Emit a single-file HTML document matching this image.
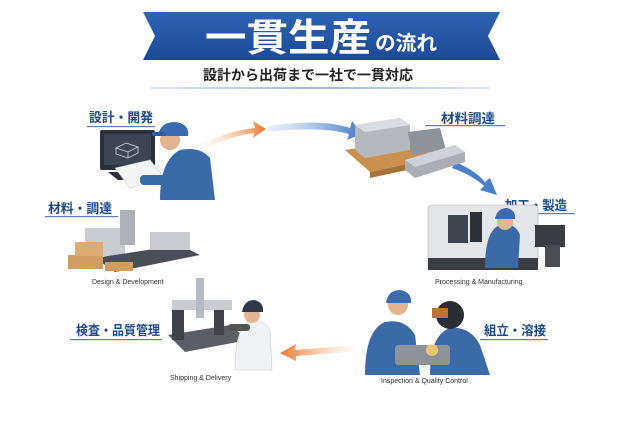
<!DOCTYPE html>
<html><head><meta charset="utf-8"><style>
body{margin:0;background:#fff}
svg{display:block}
.jp{font-family:"Liberation Sans","Noto Sans CJK JP",sans-serif;font-weight:bold}
.en{font-family:"Liberation Sans",sans-serif}
</style></head><body>
<svg width="640" height="427" viewBox="0 0 640 427" xmlns="http://www.w3.org/2000/svg">
<defs>
<linearGradient id="bn" x1="0" y1="0" x2="0" y2="1"><stop offset="0" stop-color="#2f63b5"/><stop offset="1" stop-color="#1c4a95"/></linearGradient>
<linearGradient id="oa" x1="0" y1="0" x2="1" y2="0"><stop offset="0" stop-color="#f6c9a3" stop-opacity="0"/><stop offset="1" stop-color="#e8772e"/></linearGradient>
<linearGradient id="ba" x1="0" y1="0" x2="1" y2="0"><stop offset="0" stop-color="#b8cfea" stop-opacity="0.3"/><stop offset="1" stop-color="#3f77c4"/></linearGradient>
<linearGradient id="ol" x1="1" y1="0" x2="0" y2="0"><stop offset="0" stop-color="#f6c9a3" stop-opacity="0"/><stop offset="1" stop-color="#e8772e"/></linearGradient>
<linearGradient id="ul" x1="0" y1="0" x2="1" y2="0"><stop offset="0" stop-color="#dfe8f5"/><stop offset=".5" stop-color="#9ab8e0"/><stop offset="1" stop-color="#dfe8f5"/></linearGradient>
</defs>
<!-- banner -->
<polygon points="143,12 500,12 488,36 500,60 143,60 155,36" fill="url(#bn)"/>
<text x="205" y="51" class="jp" font-size="38" fill="#fff" textLength="166" lengthAdjust="spacingAndGlyphs">一貫生産</text>
<text x="375" y="50" class="jp" font-size="20" fill="#fff" textLength="62" lengthAdjust="spacingAndGlyphs">の流れ</text>
<text x="203" y="80" class="jp" font-size="14" fill="#222" textLength="210" lengthAdjust="spacingAndGlyphs">設計から出荷まで一社で一貫対応</text>
<rect x="150" y="87" width="340" height="2" fill="url(#ul)"/>

<!-- labels -->
<g class="jp" font-size="13" fill="#1f4a8a">
<text x="89" y="122" textLength="64" lengthAdjust="spacingAndGlyphs">設計・開発</text>
<text x="441" y="123" textLength="54" lengthAdjust="spacingAndGlyphs">材料調達</text>
<text x="505" y="210" textLength="62" lengthAdjust="spacingAndGlyphs">加工・製造</text>
<text x="48" y="213" textLength="64" lengthAdjust="spacingAndGlyphs">材料・調達</text>
<text x="76" y="335" textLength="84" lengthAdjust="spacingAndGlyphs">検査・品質管理</text>
<text x="484" y="335" textLength="62" lengthAdjust="spacingAndGlyphs">組立・溶接</text>
</g>
<g fill="#5a7fb0">
<rect x="87" y="126" width="68" height="1.2"/>
<rect x="425" y="125" width="80" height="1.2"/>
<rect x="500" y="213" width="75" height="1.2"/>
<rect x="45" y="216" width="73" height="1.2"/>
<rect x="70" y="339" width="92" height="1.2"/>
<rect x="480" y="339" width="68" height="1.2"/>
</g>
<g class="en" font-size="7" fill="#333">
<text x="92" y="284">Design &amp; Development</text>
<text x="435" y="284">Processing &amp; Manufacturing</text>
<text x="170" y="380">Shipping &amp; Delivery</text>
<text x="381" y="383">Inspection &amp; Quality Control</text>
</g>

<!-- arrows -->
<path d="M200,145 Q230,130 255,128 L253,121 L266,129 L253,138 L254,133 Q230,136 202,150 Z" fill="url(#oa)"/>
<path d="M268,126 Q320,118 350,128 L352,121 L362,134 L347,140 L349,134 Q320,126 268,132 Z" fill="url(#ba)"/>
<path d="M455,162 Q475,170 485,182 L490,178 L497,195 L480,190 L484,186 Q472,175 452,168 Z" fill="#4a80c8"/>
<path d="M360,345 Q320,348 295,350 L296,344 L280,353 L296,361 L296,356 Q320,354 360,351 Z" fill="url(#ol)"/>

<!-- designer -->
<rect x="100" y="130" width="55" height="40" rx="2" fill="#2b2f36"/>
<rect x="104" y="134" width="47" height="31" fill="#3c4652"/>
<path d="M116,148 l10,-5 l12,4 l-10,5 z M116,148 v6 l12,4 v-6 M138,147 v6 l-10,5" stroke="#cfd6de" stroke-width=".8" fill="none"/>
<polygon points="108,172 150,172 160,180 118,180" fill="#2b2f36"/>
<polygon points="115,168 150,160 165,178 130,188" fill="#f4f4f4" stroke="#ccc" stroke-width=".6"/>
<path d="M160,200 Q160,160 180,150 Q200,146 210,158 L215,200 Z" fill="#3b6aa8"/>
<rect x="140" y="175" width="35" height="10" rx="4" fill="#3b6aa8"/>
<circle cx="170" cy="140" r="10" fill="#e2b48f"/>
<path d="M158,136 Q160,122 175,122 Q190,124 188,136 Z" fill="#3d6bb0"/>
<rect x="152" y="132" width="14" height="4" rx="2" fill="#2f5c9c"/>

<!-- metal pallet -->
<polygon points="345,150 410,140 435,158 370,172" fill="#c9904f"/>
<polygon points="370,172 435,158 435,164 370,178" fill="#a8713a"/>
<polygon points="355,125 400,118 410,125 410,150 365,158 355,150" fill="#b5b9bf"/>
<polygon points="355,125 400,118 410,125 365,132" fill="#d9dde2"/>
<polygon points="408,132 440,128 446,150 412,155" fill="#8d939b"/>
<polygon points="405,160 455,145 465,152 465,162 415,178 405,170" fill="#a9aeb5"/>
<polygon points="405,160 455,145 465,152 415,167" fill="#cfd3d8"/>

<!-- CNC machine -->
<rect x="428" y="205" width="110" height="63" rx="4" fill="#e4e6e9" stroke="#aaa" stroke-width=".6"/>
<rect x="428" y="258" width="110" height="12" fill="#3a3d42"/>
<rect x="448" y="215" width="20" height="28" fill="#3d4550"/>
<rect x="470" y="212" width="12" height="30" fill="#2e3138"/>
<rect x="535" y="225" width="30" height="22" fill="#3a3d42"/>
<rect x="545" y="245" width="15" height="22" fill="#4a4d52"/>
<path d="M485,268 Q485,230 500,225 Q515,222 520,235 L518,268 Z" fill="#3b6aa8"/>
<circle cx="505" cy="222" r="8" fill="#e2b48f"/>
<path d="M495,219 Q497,208 507,208 Q516,210 515,219 Z" fill="#3d6bb0"/>

<!-- left machine -->
<rect x="85" y="228" width="40" height="28" fill="#c9ccd0"/>
<rect x="120" y="210" width="15" height="35" fill="#aeb2b8"/>
<polygon points="95,258 180,245 200,255 115,272" fill="#4a4f57"/>
<rect x="150" y="232" width="40" height="18" fill="#c8ccd1"/>
<rect x="68" y="255" width="35" height="14" fill="#d19d62"/>
<rect x="75" y="242" width="28" height="14" fill="#dcac72"/>
<rect x="105" y="262" width="28" height="9" fill="#d19d62"/>

<!-- inspection machine -->
<polygon points="168,335 230,325 248,340 185,352" fill="#5a5f66"/>
<rect x="172" y="305" width="12" height="35" fill="#3e4249"/>
<rect x="172" y="300" width="60" height="10" fill="#c9ccd0"/>
<rect x="196" y="278" width="8" height="40" fill="#b8bcc2"/>
<rect x="214" y="310" width="10" height="25" fill="#3e4249"/>
<path d="M235,370 Q235,330 248,322 Q262,318 270,330 L272,370 Z" fill="#f0f2f5" stroke="#ccc" stroke-width=".6"/>
<circle cx="252" cy="315" r="8" fill="#e2b48f"/>
<path d="M242,312 Q244,300 254,300 Q264,302 263,312 Z" fill="#2e3a4a"/>
<rect x="228" y="324" width="22" height="7" rx="3" fill="#555"/>

<!-- welders -->
<path d="M365,375 Q365,330 385,322 Q405,318 415,335 L420,375 Z" fill="#3b6aa8"/>
<circle cx="398" cy="305" r="10" fill="#e2b48f"/>
<path d="M386,303 Q388,290 400,290 Q412,292 411,303 Z" fill="#3d6bb0"/>
<path d="M430,375 Q430,335 450,328 Q470,326 480,345 L490,375 Z" fill="#3b6aa8"/>
<ellipse cx="450" cy="315" rx="14" ry="14" fill="#2a2d33"/>
<rect x="432" y="308" width="16" height="10" fill="#b47a2a"/>
<rect x="395" y="345" width="55" height="20" rx="3" fill="#8d939b"/>
<circle cx="432" cy="350" r="6" fill="#ffd36a" opacity=".8"/>
</svg>
</body></html>
